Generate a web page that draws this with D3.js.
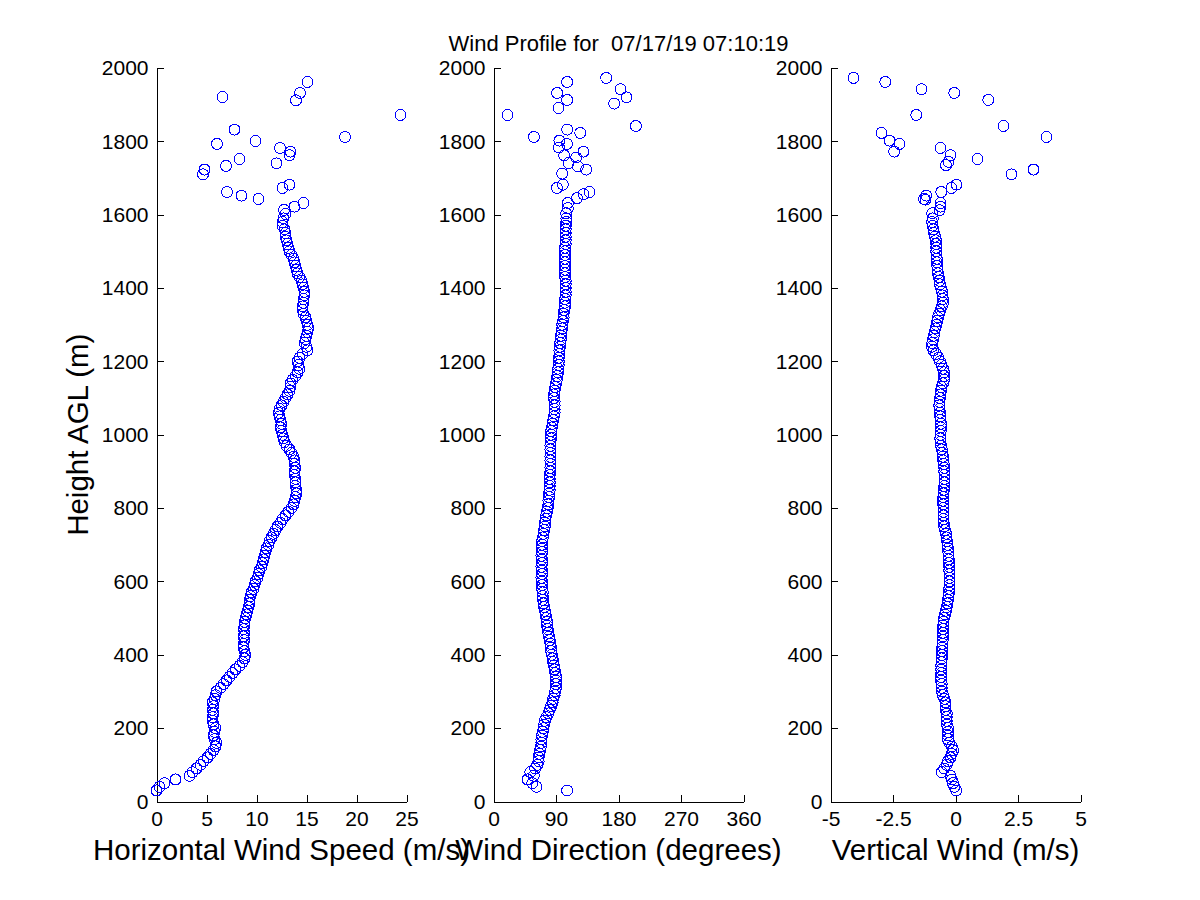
<!DOCTYPE html>
<head>
  <style>
    body { margin: 0; background: #ffffff; }
    text { font-family: "Liberation Sans", Arial, sans-serif; fill: #000000; }
    .tick_label { font-size: 21px; }
    .axis_label { font-size: 29.5px; text-anchor: middle; }
  </style>
<title>Wind Profile</title>
</head>

<body>

  <script src="https://cdn.jsdelivr.net/npm/d3@7/dist/d3.min.js"></script>

  <script>
    // range gates (m AGL) of the continuous part of the profile
    var heights = [
        30,   40,   50,   60,   70,   80,   90,
       100,  110,  120,  130,  140,  150,  160,  170,  180,  190,
       200,  210,  220,  230,  240,  250,  260,  270,  280,  290,
       300,  310,  320,  330,  340,  350,  360,  370,  380,  390,
       400,  410,  420,  430,  440,  450,  460,  470,  480,  490,
       500,  510,  520,  530,  540,  550,  560,  570,  580,  590,
       600,  610,  620,  630,  640,  650,  660,  670,  680,  690,
       700,  710,  720,  730,  740,  750,  760,  770,  780,  790,
       800,  810,  820,  830,  840,  850,  860,  870,  880,  890,
       900,  910,  920,  930,  940,  950,  960,  970,  980,  990,
      1000, 1010, 1020, 1030, 1040, 1050, 1060, 1070, 1080, 1090,
      1100, 1110, 1120, 1130, 1140, 1150, 1160, 1170, 1180, 1190,
      1200, 1210, 1220, 1230, 1240, 1250, 1260, 1270, 1280, 1290,
      1300, 1310, 1320, 1330, 1340, 1350, 1360, 1370, 1380, 1390,
      1400, 1410, 1420, 1430, 1440, 1450, 1460, 1470, 1480, 1490,
      1500, 1510, 1520, 1530, 1540, 1550, 1560, 1570, 1580, 1590
    ];

    // horizontal wind speed (m/s)
    var speed = [
      0.0, 0.3, 0.8, 1.9, 3.3, 3.6, 4.0,
      4.4, 4.7, 5.1, 5.4, 5.7, 5.9, 6.0, 5.8, 5.7, 5.8,
      5.9, 5.7, 5.6, 5.6, 5.7, 5.6, 5.7, 5.6, 5.8, 5.9,
      6.0, 6.4, 6.7, 7.0, 7.3, 7.6, 7.9, 8.3, 8.6, 8.8,
      8.9, 8.8, 8.7, 8.7, 8.8, 8.7, 8.8, 8.7, 8.8, 8.8,
      8.9, 9.0, 9.1, 9.2, 9.3, 9.3, 9.4, 9.5, 9.7, 9.8,
      9.9, 10.1, 10.2, 10.3, 10.5, 10.6, 10.7, 10.8, 10.9, 11.0,
      11.2, 11.3, 11.5, 11.7, 11.9, 12.1, 12.4, 12.6, 12.9, 13.2,
      13.5, 13.7, 13.8, 13.9, 14.0, 14.0, 13.9, 13.9, 13.9, 13.8,
      13.8, 13.9, 13.8, 13.8, 13.7, 13.5, 13.3, 13.0, 12.8, 12.7,
      12.6, 12.5, 12.4, 12.5, 12.4, 12.3, 12.2, 12.3, 12.5, 12.7,
      12.9, 13.1, 13.3, 13.4, 13.4, 13.6, 13.9, 14.1, 14.3, 14.2,
      14.1, 14.3, 14.6, 15.1, 15.0, 14.8, 14.9, 15.0, 15.1, 15.2,
      15.1, 15.0, 14.9, 14.7, 14.6, 14.6, 14.7, 14.7, 14.8, 14.8,
      14.7, 14.6, 14.5, 14.3, 14.1, 14.0, 13.9, 13.8, 13.7, 13.5,
      13.3, 13.2, 13.1, 13.0, 12.9, 12.9, 12.8, 12.6, 12.6, 12.7
    ];

    // wind direction (degrees)
    var direction = [
      106, 62, 56, 49, 58, 53, 60,
      63, 65, 65, 66, 67, 68, 69, 69, 70, 71,
      72, 73, 74, 76, 79, 81, 83, 85, 86, 88,
      89, 90, 90, 90, 90, 89, 88, 87, 86, 85,
      84, 83, 83, 82, 81, 80, 79, 78, 77, 77,
      76, 75, 74, 73, 72, 71, 71, 71, 70, 70,
      70, 69, 70, 70, 69, 70, 70, 69, 70, 70,
      70, 70, 71, 72, 73, 74, 74, 75, 76, 77,
      78, 79, 79, 80, 80, 81, 81, 81, 81, 81,
      82, 82, 82, 82, 82, 82, 82, 82, 82, 83,
      83, 83, 84, 85, 86, 87, 88, 88, 88, 88,
      87, 87, 88, 89, 90, 91, 92, 93, 93, 94,
      94, 94, 95, 95, 96, 96, 97, 97, 98, 99,
      99, 100, 101, 101, 102, 103, 103, 103, 104, 104,
      104, 104, 104, 103, 103, 103, 103, 103, 103, 103,
      103, 103, 104, 104, 104, 104, 104, 104, 105, 105
    ];

    // vertical wind (m/s)
    var vertical = [
      0.03, -0.05, -0.10, -0.15, -0.20, -0.55, -0.45,
      -0.35, -0.30, -0.20, -0.15, -0.10, -0.15, -0.25, -0.30, -0.30, -0.30,
      -0.30, -0.35, -0.35, -0.35, -0.35, -0.40, -0.40, -0.40, -0.45, -0.50,
      -0.55, -0.55, -0.55, -0.58, -0.58, -0.57, -0.57, -0.57, -0.56, -0.55,
      -0.54, -0.54, -0.53, -0.52, -0.51, -0.50, -0.50, -0.50, -0.49, -0.48,
      -0.46, -0.42, -0.38, -0.35, -0.32, -0.30, -0.28, -0.26, -0.25, -0.24,
      -0.24, -0.24, -0.24, -0.25, -0.25, -0.26, -0.27, -0.28, -0.29, -0.30,
      -0.32, -0.34, -0.36, -0.38, -0.42, -0.45, -0.47, -0.48, -0.48, -0.48,
      -0.48, -0.49, -0.50, -0.49, -0.48, -0.46, -0.45, -0.44, -0.44, -0.44,
      -0.45, -0.45, -0.47, -0.49, -0.50, -0.52, -0.55, -0.58, -0.60, -0.61,
      -0.60, -0.59, -0.58, -0.58, -0.60, -0.61, -0.62, -0.64, -0.65, -0.64,
      -0.62, -0.60, -0.58, -0.56, -0.50, -0.46, -0.45, -0.46, -0.50, -0.56,
      -0.62, -0.68, -0.78, -0.88, -0.94, -0.93, -0.90, -0.87, -0.84, -0.80,
      -0.76, -0.73, -0.70, -0.65, -0.60, -0.55, -0.50, -0.50, -0.52, -0.54,
      -0.58, -0.62, -0.64, -0.67, -0.70, -0.72, -0.73, -0.74, -0.75, -0.76,
      -0.77, -0.77, -0.77, -0.78, -0.82, -0.86, -0.88, -0.92, -0.94, -0.91
    ];

    // noisy returns above ~1600 m, each panel keeps only what falls inside its limits
    var speedTopH = [1602, 1613, 1622, 1632, 1643, 1652, 1662, 1673, 1682, 1710, 1723, 1733, 1740,
                     1752, 1762, 1772, 1782, 1793, 1801, 1812, 1832, 1872, 1912, 1921, 1932, 1962];
    var speedTop  = [12.9, 12.75, 13.8, 14.7, 10.2, 8.5, 7.05, 12.6, 13.3, 4.65, 4.8, 6.95, 12.0,
                     8.3, 13.3, 13.4, 12.35, 6.05, 9.9, 18.85, 7.8, 24.4, 13.95, 6.6, 14.35, 15.1];

    var dirTopH = [1604, 1618, 1632, 1645, 1656, 1662, 1673, 1682, 1712, 1723, 1732, 1741, 1756, 1762, 1772, 1783,
                   1793, 1802, 1812, 1823, 1832, 1842, 1872, 1891, 1903, 1913, 1920, 1932, 1942, 1962, 1973];
    var dirTop  = [104.7, 107, 107.1, 120.1, 129.6, 138.3, 91.3, 99.9, 98.9, 133.5, 121.5, 108, 119.1, 101.8, 129.6, 94.2,
                   105.7, 95, 58.2, 124.9, 106.1, 205, 20.2, 93.6, 173.8, 106.1, 191.5, 91.7, 182.9, 106.1, 162.3];

    var vertTopH = [1604, 1612, 1622, 1632, 1641, 1643, 1652, 1662, 1673, 1682, 1710, 1723, 1735, 1744, 1752, 1762,
                    1772, 1782, 1793, 1802, 1812, 1823, 1842, 1872, 1913, 1932, 1942, 1962, 1973];
    var vertTop  = [-0.93, -0.64, -0.6, -0.6, -1.2, -1.26, -1.17, -0.57, -0.16, 0.04, 2.24, 3.12, -0.38, -0.28, 0.88, -0.2,
                    -2.45, -0.6, -2.24, -2.64, 3.64, -2.96, 1.92, -1.57, 1.31, -0.05, -1.36, -2.81, -4.08];

    // tick values
    var heightTicks = [0, 200, 400, 600, 800, 1000, 1200, 1400, 1600, 1800, 2000];
    var speedTicks = [0, 5, 10, 15, 20, 25];
    var dirTicks = [0, 90, 180, 270, 360];
    var vertTicks = [-5, -2.5, 0, 2.5, 5];

    // layout of the figure (matlab style subplot 1x3)
    var width = 1200;
    var height = 900;
    var plotTop = 68;
    var plotBottom = 801.5;
    var plotWidth = 250;
    var lefts = [156.5, 493.5, 830.5];

    var svg = d3.select("body").append("svg")
      .attr("width", width)
      .attr("height", height);

    var y = d3.scaleLinear()
              .domain([0, 2000])
              .range([plotBottom, plotTop]);

    var drawPanel = function(left, domain, ticks, values, topH, topValues, label) {
      var x = d3.scaleLinear()
                .domain(domain)
                .range([left, left + plotWidth]);

      var g = svg.append("g");

      // x axis, ticks point inwards
      var xAxis = g.append("g")
          .attr("transform", "translate(0," + plotBottom + ")")
          .call(d3.axisBottom(x)
                  .tickValues(ticks)
                  .tickSizeInner(-7)
                  .tickSizeOuter(0)
                  .tickPadding(10)
                  .tickFormat(function(d) { return String(d); }));
      xAxis.selectAll("text").attr("class", "tick_label");

      // y axis
      var yAxis = g.append("g")
          .attr("transform", "translate(" + left + ",0)")
          .call(d3.axisLeft(y)
                  .tickValues(heightTicks)
                  .tickSizeInner(-7)
                  .tickSizeOuter(0)
                  .tickPadding(8)
                  .tickFormat(function(d) { return String(d); }));
      yAxis.selectAll("text").attr("class", "tick_label");

      g.selectAll(".domain, .tick line")
        .attr("stroke", "#000000")
        .attr("shape-rendering", "crispEdges");
      g.selectAll(".tick text").attr("fill", "#000000");
      xAxis.attr("font-family", null).attr("font-size", null);
      yAxis.attr("font-family", null).attr("font-size", null);

      // profile
      g.append("g")
        .selectAll("circle")
        .data(values)
        .enter()
        .append("circle")
        .attr("cx", function(d) { return x(d); })
        .attr("cy", function(d, i) { return y(heights[i]); })
        .attr("r", 5.5)
        .attr("fill", "none")
        .attr("stroke", "#0000ff")
        .attr("stroke-width", 1)
        .attr("shape-rendering", "crispEdges");

      // scattered upper points
      g.append("g")
        .selectAll("circle")
        .data(topValues)
        .enter()
        .append("circle")
        .attr("cx", function(d) { return x(d); })
        .attr("cy", function(d, i) { return y(topH[i]); })
        .attr("r", 5.5)
        .attr("fill", "none")
        .attr("stroke", "#0000ff")
        .attr("stroke-width", 1)
        .attr("shape-rendering", "crispEdges");

      // x axis label
      svg.append("text")
        .attr("class", "axis_label")
        .attr("x", left + plotWidth / 2)
        .attr("y", 860)
        .text(label);
    };

    drawPanel(lefts[0], [0, 25], speedTicks, speed, speedTopH, speedTop, "Horizontal Wind Speed (m/s)");
    drawPanel(lefts[1], [0, 360], dirTicks, direction, dirTopH, dirTop, "Wind Direction (degrees)");
    drawPanel(lefts[2], [-5, 5], vertTicks, vertical, vertTopH, vertTop, "Vertical Wind (m/s)");

    // y axis label
    svg.append("text")
      .attr("class", "axis_label")
      .attr("transform", "translate(88," + (plotTop + plotBottom) / 2 + ") rotate(-90)")
      .text("Height AGL (m)");

    // title
    svg.append("text")
      .attr("x", lefts[1] + plotWidth / 2)
      .attr("y", 51)
      .style("font-size", "22px")
      .style("text-anchor", "middle")
      .style("white-space", "pre")
      .text("Wind Profile for  07/17/19 07:10:19");

  </script>
</body>
